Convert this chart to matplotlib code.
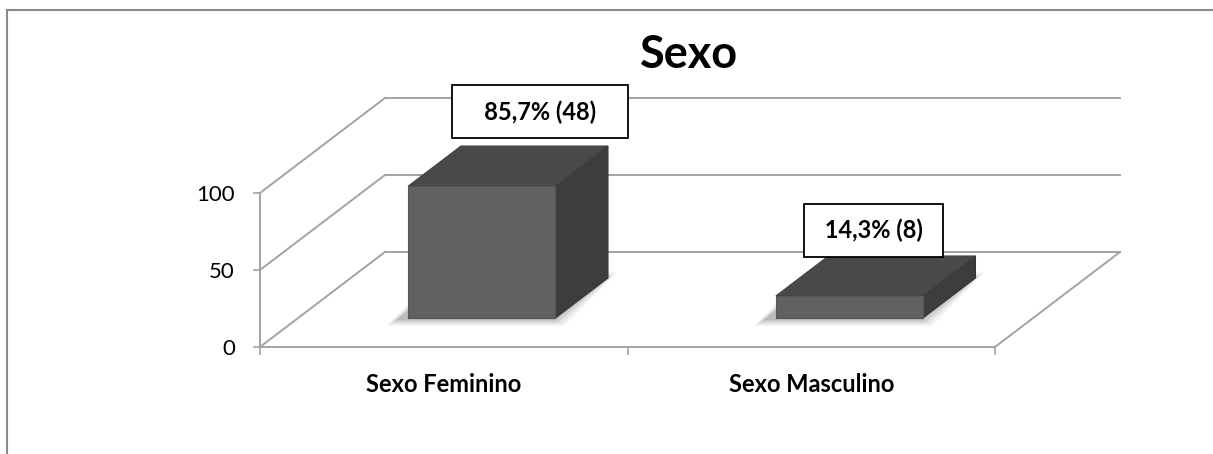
import matplotlib.pyplot as plt
from matplotlib.patches import Polygon
from matplotlib.lines import Line2D

plt.rcParams['font.family'] = ['Lato', 'DejaVu Sans']

title = "Sexo"
categories = ["Sexo Feminino", "Sexo Masculino"]
percentages = [85.7, 14.3]
counts = [48, 8]
y_ticks = [0, 50, 100]

W, H = 1213, 454
fig = plt.figure(figsize=(W / 100, H / 100), dpi=100)
ax = fig.add_axes([260 / W, 1 - 347 / H, 735 / W, 154 / H])
ax.set_xlim(-0.5, len(categories) - 0.5)
ax.set_ylim(0, 100)

# oblique offset from front to back wall (data units)
depth_x = 0.34
depth_y = 61.7
bar_width = 0.4
f0, f1 = 0.305, 0.726   # bar depth span as fraction of floor depth
grid_col = '#a3a3a3'

# back wall + floor lines
x_left, x_right = ax.get_xlim()
for yv in y_ticks:
    ax.plot([x_left, x_left + depth_x], [yv, yv + depth_y], color=grid_col, lw=1.4,
            clip_on=False, zorder=1)
    ax.plot([x_left + depth_x, x_right + depth_x], [yv + depth_y, yv + depth_y],
            color=grid_col, lw=1.4, clip_on=False, zorder=1)
ax.plot([x_right, x_right + depth_x], [0, depth_y], color=grid_col, lw=1.4,
        clip_on=False, zorder=1)

# bars
for i, v in enumerate(percentages):
    x0, x1 = i - bar_width / 2, i + bar_width / 2
    ax0, ay0 = f0 * depth_x, f0 * depth_y
    bx0, by0 = f1 * depth_x, f1 * depth_y
    # soft shadow on floor
    for k, a in enumerate([0.05, 0.06, 0.08, 0.1]):
        s = (3 - k) * 0.008
        sy = (3 - k) * 1.2
        shadow = [(x0 + ax0 - 0.035 - s, ay0 - 1.5 - sy), (x1 + ax0 + s, ay0 - 1.5 - sy),
                  (x1 + bx0 + s, by0 + sy), (x0 + bx0 - 0.035 - s, by0 + sy)]
        ax.add_patch(Polygon(shadow, closed=True, facecolor='black', edgecolor='none',
                             alpha=a, clip_on=False, zorder=2))
    front = [(x0 + ax0, ay0), (x1 + ax0, ay0), (x1 + ax0, ay0 + v), (x0 + ax0, ay0 + v)]
    top = [(x0 + ax0, ay0 + v), (x1 + ax0, ay0 + v), (x1 + bx0, by0 + v), (x0 + bx0, by0 + v)]
    side = [(x1 + ax0, ay0), (x1 + bx0, by0), (x1 + bx0, by0 + v), (x1 + ax0, ay0 + v)]
    ax.add_patch(Polygon(side, closed=True, facecolor='#3d3d3d', edgecolor='#353535',
                         lw=0.8, clip_on=False, zorder=3))
    ax.add_patch(Polygon(top, closed=True, facecolor='#494949', edgecolor='#404040',
                         lw=0.8, clip_on=False, zorder=3))
    ax.add_patch(Polygon(front, closed=True, facecolor='#616161', edgecolor='#575757',
                         lw=0.8, clip_on=False, zorder=4))

# data labels
label_offsets = [(23, 39), (-1.5, 33)]
for i, (p, c) in enumerate(zip(percentages, counts)):
    cx = i + (f0 + f1) / 2 * depth_x
    cy = (f0 + f1) / 2 * depth_y + p
    txt = f"{p:.1f}".replace('.', ',') + f"% ({c})"
    pad_sp = "   " if i == 0 else " "
    ax.annotate(pad_sp + txt + pad_sp, xy=(cx, cy), xytext=label_offsets[i],
                textcoords='offset points',
                ha='center', va='center', fontsize=17, fontweight='bold',
                bbox=dict(boxstyle='square,pad=0.62', facecolor='white',
                          edgecolor='black', lw=1.3),
                annotation_clip=False, zorder=6)

# axes styling
for s in ['top', 'right']:
    ax.spines[s].set_visible(False)
for s in ['left', 'bottom']:
    ax.spines[s].set_color(grid_col)
    ax.spines[s].set_linewidth(1.4)
ax.set_yticks(y_ticks)
ax.tick_params(axis='y', length=5, width=1.2, color=grid_col, labelsize=16, pad=13)
ax.set_xticks(range(len(categories)))
ax.set_xticklabels(categories, fontsize=17, fontweight='bold')
ax.set_xticks([x_left + k for k in range(len(categories) + 1)], minor=True)
ax.tick_params(axis='x', which='major', length=0, pad=19)
ax.tick_params(axis='x', which='minor', length=6, width=1.2, color=grid_col)
ax.patch.set_visible(False)

fig.text(689 / W, 1 - 55 / H, title, ha='center', va='center', fontsize=32.5,
         fontweight='bold')

# outer frame (top and left only visible)
fig.add_artist(Line2D([7 / W, 7 / W], [0, 1 - 9.5 / H], transform=fig.transFigure,
                      color='#8a8a8a', lw=1.5))
fig.add_artist(Line2D([7 / W, 1], [1 - 9.5 / H, 1 - 9.5 / H], transform=fig.transFigure,
                      color='#8a8a8a', lw=1.5))

fig.savefig('out.png', dpi=100)
